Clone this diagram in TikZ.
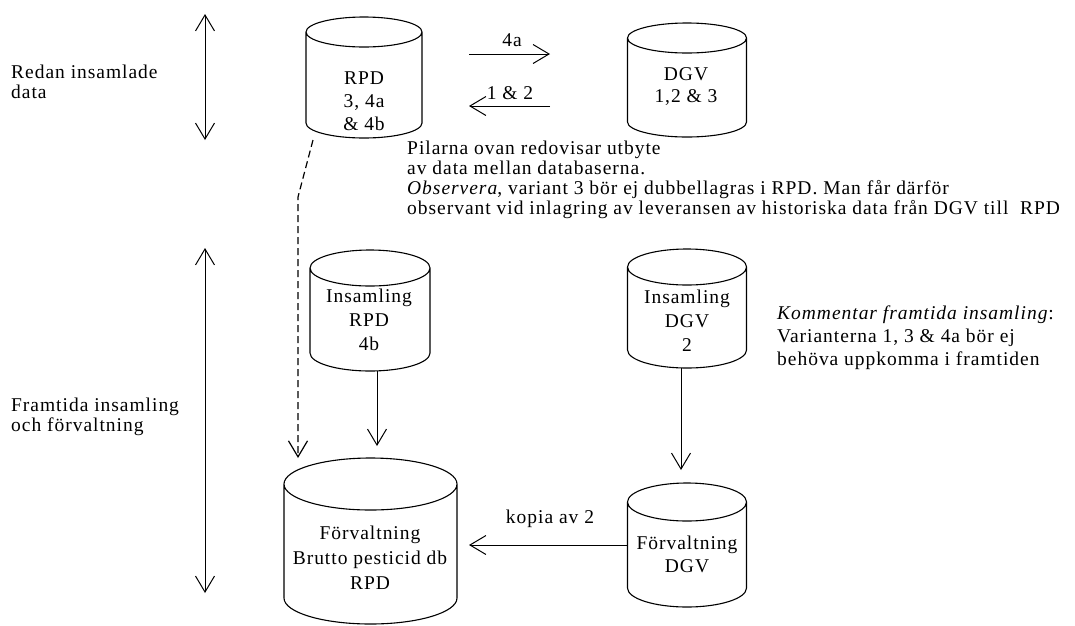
\documentclass[tikz,border=0pt]{standalone}
\usepackage{fontspec}
\setmainfont{Liberation Serif}[LetterSpace=5]
\usetikzlibrary{arrows.meta,calc}
\tikzset{
  every node/.style={font=\fontsize{19.5}{20}\selectfont},
  cylbox/.style={draw=none, rectangle, inner sep=0pt, outer sep=0pt},
  cyl/.style={line width=1.1pt, line join=round},
  ctext/.style={inner sep=0pt, align=center},
  lbl/.style={inner sep=0pt, align=left, anchor=north west},
  arr/.style={line width=1pt, -{Straight Barb[length=16pt,width=19pt]}},
  dbl/.style={line width=1pt, {Straight Barb[length=16pt,width=19pt]}-{Straight Barb[length=16pt,width=19pt]}},
}
\newcommand{\cylout}[2]{%
  \draw[cyl] let \p1=(#1.north west), \p2=(#1.south east), \n1={(\x2-\x1)/2} in
    (\x1,\y1-#2) arc[start angle=180,end angle=-180,x radius=\n1,y radius=#2]
    (\x1,\y1-#2) -- (\x1,\y2+#2) arc[start angle=180,end angle=360,x radius=\n1,y radius=#2] -- (\x2,\y1-#2);}
\begin{document}
\begin{tikzpicture}[x=1pt,y=-1pt]
\useasboundingbox (0,0) rectangle (1075,625);
% cylinders
\node[cylbox, minimum width=116pt, minimum height=121pt] (rpd) at (364,77.5) {};
\node[cylbox, minimum width=119pt, minimum height=114pt] (dgv) at (687,80) {};
\node[cylbox, minimum width=120pt, minimum height=121pt] (insrpd) at (370,310.5) {};
\node[cylbox, minimum width=119pt, minimum height=119pt] (insdgv) at (687,308.5) {};
\node[cylbox, minimum width=119pt, minimum height=124pt] (fdgv) at (687,545) {};
\node[cylbox, minimum width=173pt, minimum height=166pt] (big) at (370.5,541) {};
\cylout{rpd}{15pt}
\cylout{dgv}{15pt}
\cylout{insrpd}{18pt}
\cylout{insdgv}{18pt}
\cylout{fdgv}{19pt}
\cylout{big}{26pt}
% cylinder texts
\node[ctext, font=\fontsize{19.5}{23}\selectfont] (rpdt) at (364,101) {RPD\\3, 4a\\\& 4b};
\node[ctext, font=\fontsize{19.5}{22}\selectfont] (dgvt) at (686,87) {DGV\\1,2 \& 3};
\node[ctext, font=\fontsize{19.5}{24}\selectfont] (insrpdt) at (369,320) {Insamling\\RPD\\4b};
\node[ctext, font=\fontsize{19.5}{24}\selectfont] (insdgvt) at (687,321) {Insamling\\DGV\\2};
\node[ctext, font=\fontsize{19.5}{23}\selectfont] (fdgvt) at (687,554) {Förvaltning\\DGV};
\node[ctext, font=\fontsize{19.5}{25}\selectfont] (bigt) at (370,558) {Förvaltning\\Brutto pesticid db\\RPD};
% exchange arrows
\draw[arr, shorten <=47pt, shorten >=77.5pt] (rpd.east |- 0,54) -- (dgv.west |- 0,54);
\draw[arr, shorten <=77.5pt, shorten >=47pt] (dgv.west |- 0,106) -- (rpd.east |- 0,106);
\node[inner sep=0pt] (l4a) at (512,40) {4a};
\node[inner sep=0pt] (l12) at (510,93) {1 \& 2};
% flow arrows
\draw[arr, shorten >=12pt] (insrpd.south -| 377,0) -- (big.north -| 377,0);
\draw[arr, shorten >=13pt] (insdgv.south -| 681,0) -- (fdgv.north -| 681,0);
\draw[arr, shorten >=12pt] (fdgv.west |- 0,545) -- (big.east |- 0,545);
\node[inner sep=0pt] (lkop) at (550,519) {kopia av 2};
% dashed arrow
\coordinate (ds) at (313,140);
\coordinate (dm) at (298,197);
\draw[arr, line width=1.2pt, dash pattern=on 7pt off 4pt] (ds) -- (dm) -- (dm |- big.north);
% left double arrows
\coordinate (ta1) at (205,14);
\coordinate (ta2) at (205,140);
\coordinate (ba1) at (205,248);
\coordinate (ba2) at (205,593);
\draw[dbl] (ta1) -- (ta2);
\draw[dbl] (ba1) -- (ba2);
% texts
\node[lbl] (redan) at (11,65) {Redan insamlade\\data};
\node[lbl] (framt) at (11,398) {Framtida insamling\\och förvaltning};
\node[lbl] (pil) at (407,141) {Pilarna ovan redovisar utbyte\\av data mellan databaserna.\\\textit{Observera}, variant 3 bör ej dubbellagras i RPD. Man får därför\\observant vid inlagring av leveransen av historiska data från DGV till~ RPD};
\node[lbl, font=\fontsize{19.5}{23}\selectfont] (komm) at (777,306) {\textit{Kommentar framtida insamling}:\\Varianterna 1, 3 \& 4a bör ej\\behöva uppkomma i framtiden};
\end{tikzpicture}
\end{document}
